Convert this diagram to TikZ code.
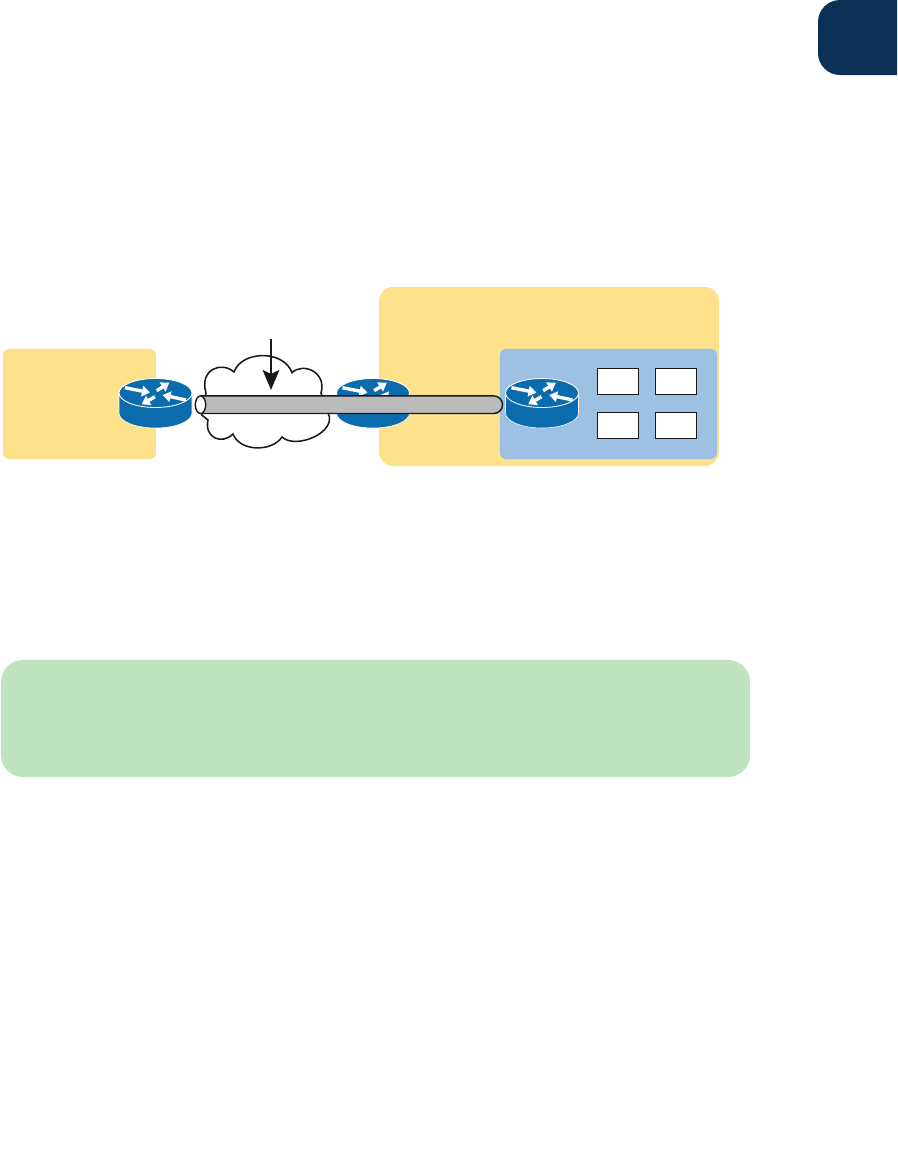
\documentclass[tikz,border=0pt]{standalone}
\usetikzlibrary{shapes.geometric, shapes.misc, arrows.meta, positioning}
\definecolor{sitecol}{HTML}{FDE28B}
\definecolor{lancol}{HTML}{9DC1E2}
\definecolor{notecol}{HTML}{BFE4BF}
\definecolor{tabcol}{HTML}{0A3055}
\definecolor{routercol}{HTML}{0B6CAD}
\definecolor{tubecol}{HTML}{BBBBBB}
\begin{document}
\begin{tikzpicture}[
    x=0.025cm, y=-0.025cm,
    site/.style={rectangle, fill=sitecol, rounded corners=0.15cm},
    lan/.style={rectangle, fill=lancol, rounded corners=0.15cm,
                minimum width=5.425cm, minimum height=2.75cm},
    note/.style={rectangle, fill=notecol, rounded corners=0.55cm,
                 minimum width=18.725cm, minimum height=2.925cm},
    host/.style={rectangle, draw=black!90, fill=white, line width=1.1pt,
                 minimum width=1.025cm, minimum height=0.65cm},
    tube/.style={rounded rectangle, rounded rectangle west arc=none, draw=black!90, fill=tubecol,
                 line width=1pt, minimum width=7.55cm, minimum height=0.44cm, inner sep=0pt},
    tubeend/.style={ellipse, draw=black!90, fill=white, line width=1pt,
                    minimum width=0.26cm, minimum height=0.44cm, inner sep=0pt},
    cloudline/.style={draw=black!90, fill=white, line width=1.1pt},
    arr/.style={-{Stealth[length=0.5cm, width=0.42cm, inset=0.1cm]}, black!90, line width=1.1pt},
    flow/.style={-{Triangle[length=0.2cm, width=0.26cm]}, white, line width=2.4pt},
    router/.pic={
        \fill[routercol, draw=white, line width=0.4pt] (-36.5,0) -- (-36.5,20)
            .. controls (-36.5,28.3) and (-20.2,35) .. (0,35)
            .. controls (20.2,35) and (36.5,28.3) .. (36.5,20) -- (36.5,0) -- cycle;
        \fill[routercol, draw=white, line width=0.6pt] (0,0) ellipse[x radius=36.5, y radius=14.5];
        \draw[flow] (-30.5,-5.3) -- (-5.5,-0.3);
        \draw[flow] (1.2,-2.3) -- (13.8,-10.3);
        \draw[flow] (30.5,7) -- (7.2,2);
        \draw[flow] (-0.5,3.7) -- (-13.8,11.3);
    },
]

\useasboundingbox (0,0) rectangle (897,1173);

\fill[tabcol] (897,0) [rounded corners=0.55cm] -- (818,0) -- (818,75) [sharp corners] -- (897,75) -- cycle;

\node[site, minimum width=3.825cm, minimum height=2.75cm] (siteleft) at (79.5,404) {};
\node[site, rounded corners=0.35cm, minimum width=8.5cm, minimum height=4.475cm] (siteright) at (549,376.5) {};
\node[lan] (lanright) at (608.5,404) {};

\node[host] (hosta) at (618,381.5) {};
\node[host] (hostb) at (676,381.5) {};
\node[host] (hostc) at (618,425.5) {};
\node[host] (hostd) at (676,425.5) {};

\node[note] (notebox) at (375.5,718.5) {};

\pic (routerleft) at (155.5,393) {router};
\pic (routermid) at (373,393) {router};
\pic (routerright) at (542,393) {router};

\draw[cloudline] (206,393) .. controls (199,369) and (222,361) .. (234,372)
    .. controls (242,350) and (284,350) .. (292,372.7)
    .. controls (303,362) and (327,372) .. (321,393)
    -- (328,413)
    .. controls (338,432) and (296,450) .. (282,437)
    .. controls (272,452) and (240,452) .. (233,434)
    .. controls (222,445) and (204,438) .. (208,420)
    -- (201.7,415) -- cycle;

\node[tube] (wantube) at (351.5,404.7) {};
\node[tubeend] (wantubeend) at (200.5,404.7) {};

\coordinate (arrowtop) at (271,339);
\coordinate (arrowtip) at (271,390);
\draw[arr] (arrowtop) -- (arrowtip);

\end{tikzpicture}
\end{document}
